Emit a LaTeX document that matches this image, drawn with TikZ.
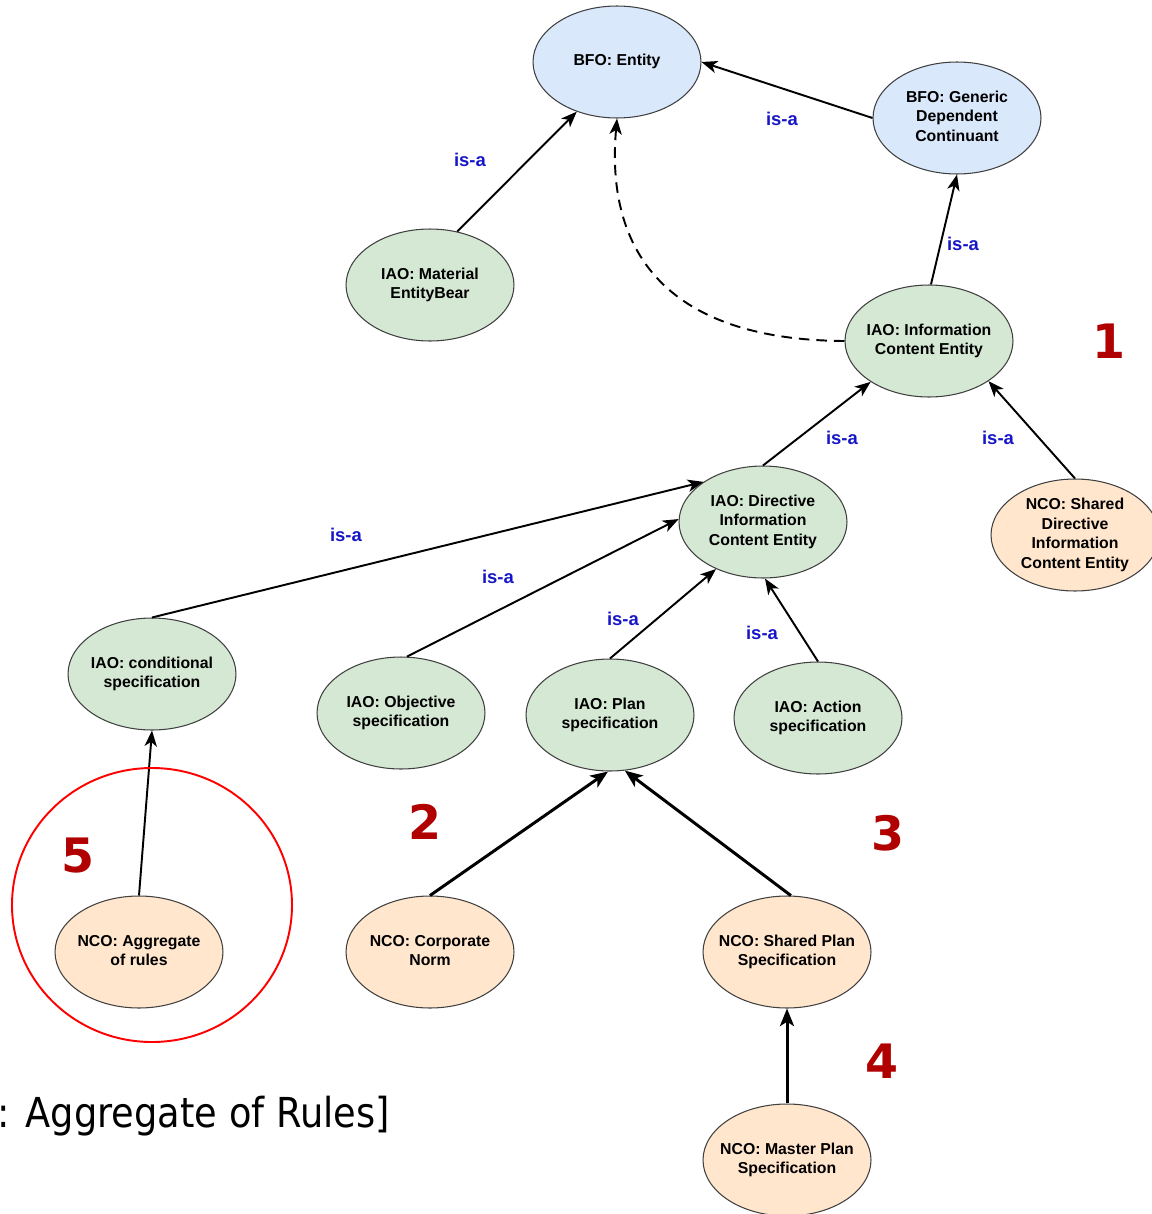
\documentclass[tikz,border=0pt]{standalone}
\usepackage{fontspec}
\setmainfont{Liberation Sans}
\newfontfamily\numfont{DejaVu Sans}
\newfontfamily\capfont[FakeStretch=0.89]{DejaVu Sans}
\usetikzlibrary{shapes.geometric,arrows.meta}
\definecolor{bfofill}{HTML}{DAE8FC}
\definecolor{iaofill}{HTML}{D5E8D4}
\definecolor{ncofill}{HTML}{FFE6CC}
\definecolor{isablue}{RGB}{22,22,200}
\definecolor{markred}{RGB}{176,0,0}
% centred multi-line label that takes no room, so every ellipse keeps its size
\newcommand\termlabel[1]{\makebox[0pt]{\raisebox{\dimexpr(\depth-\height)/2\relax}[0pt][0pt]{%
  \begin{tabular}{@{}c@{}}#1\end{tabular}}}}
\tikzset{
  term/.style={ellipse, draw=black!75, line width=0.6pt, inner sep=0pt,
    minimum width=3.36cm, minimum height=2.24cm,
    font=\fontsize{9}{11.3}\selectfont\bfseries},
  bfo/.style={term, fill=bfofill},
  iao/.style={term, fill=iaofill},
  nco/.style={term, fill=ncofill},
  isa/.style={line width=1.1pt, -{Stealth[length=9pt,width=7pt,inset=2.5pt]}},
  strongisa/.style={line width=1.7pt, -{Stealth[length=10pt,width=8pt,inset=2.5pt]}},
  isalabel/.style={text=isablue, font=\fontsize{10.5}{12}\selectfont\bfseries},
  marknum/.style={text=markred, font=\fontsize{27}{30}\selectfont\numfont\bfseries}
}
\begin{document}
\begin{tikzpicture}[x=0.02cm, y=-0.02cm]
\useasboundingbox (0,0) rectangle (1152,1214);

% BFO upper level
\node[bfo] (ent) at (617,62) {\termlabel{BFO: Entity}};
\node[bfo] (gdc) at (957,118) {\termlabel{BFO: Generic\\Dependent\\Continuant}};

% IAO classes
\node[iao] (mat) at (430,285) {\termlabel{IAO: Material\\EntityBear}};
\node[iao] (ice) at (929,341) {\termlabel{IAO: Information\\Content Entity}};
\node[iao] (dir) at (763,522) {\termlabel{IAO: Directive\\Information\\Content Entity}};
\node[iao] (cond) at (152,674) {\termlabel{IAO: conditional\\specification}};
\node[iao] (obj) at (401,713) {\termlabel{IAO: Objective\\specification}};
\node[iao] (plan) at (610,715) {\termlabel{IAO: Plan\\specification}};
\node[iao] (act) at (818,718) {\termlabel{IAO: Action\\specification}};

% NCO classes
\node[nco] (sdice) at (1075,535) {\termlabel{NCO: Shared\\Directive\\Information\\Content Entity}};
\node[nco] (agg) at (139,952) {\termlabel{NCO: Aggregate\\of rules}};
\node[nco] (corp) at (430,952) {\termlabel{NCO: Corporate\\Norm}};
\node[nco] (sps) at (787,952) {\termlabel{NCO: Shared Plan\\Specification}};
\node[nco] (mps) at (787,1160) {\termlabel{NCO: Master Plan\\Specification}};

% is-a links
\draw[isa] (mat.63) -- (ent.231);
\draw[isa] (gdc.west) -- (ent.east);
\draw[isa] (ice.88) -- (gdc.south);
\draw[isa, dashed, dash pattern=on 6pt off 4pt] (ice.west) .. controls (670,340) and (605,255) .. (ent.south);
\draw[isa] (dir.north) -- (ice.215);
\draw[isa] (sdice.north) -- (ice.326);
\draw[isa] (cond.north) -- (dir.146);
\draw[isa] (obj.84) -- (dir.178);
\draw[isa] (plan.north) -- (dir.225);
\draw[isa] (act.north) -- (dir.272);
\draw[isa] (agg.north) -- (cond.south);
\draw[strongisa] (corp.north) -- (plan.268);
\draw[strongisa] (sps.86) -- (plan.285);
\draw[strongisa] (mps.north) -- (sps.south);

% link labels
\node[isalabel] (l1) at (470,160) {is-a};
\node[isalabel] (l2) at (782,119) {is-a};
\node[isalabel] (l3) at (963,244) {is-a};
\node[isalabel] (l4) at (842,438) {is-a};
\node[isalabel] (l5) at (998,438) {is-a};
\node[isalabel] (l6) at (346,535) {is-a};
\node[isalabel] (l7) at (498,577) {is-a};
\node[isalabel] (l8) at (623,619) {is-a};
\node[isalabel] (l9) at (762,633) {is-a};

% numbered callouts
\node[marknum] (n1) at (1109,341) {1};
\node[marknum] (n2) at (425,822) {2};
\node[marknum] (n3) at (888,833) {3};
\node[marknum] (n4) at (882,1061) {4};
\node[marknum] (n5) at (78,856) {5};

% highlight ring around the aggregate of rules
\draw[red, line width=1.1pt] (152,905) ellipse [x radius=140, y radius=137];

% caption fragment
\node[anchor=base east, inner sep=0pt, font=\fontsize{23.5}{26}\selectfont\capfont] (cap) at (390,1127) {: Aggregate of Rules]};
\end{tikzpicture}
\end{document}
